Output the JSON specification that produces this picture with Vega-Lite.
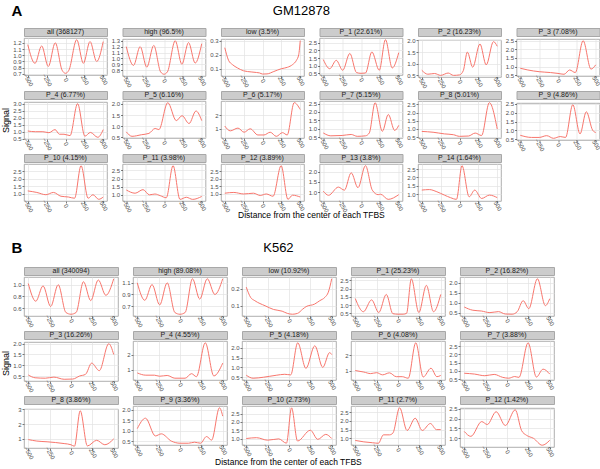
{
"$schema": "https://vega.github.io/schema/vega-lite/v6.json",
"padding": {"left": 1, "top": 3, "right": 0, "bottom": 0},
"spacing": 20,
"config": {
  "font": "Liberation Sans",
  "view": {"stroke": "#9a9a9a", "strokeWidth": 0.8},
  "axis": {"domain": false, "grid": true, "gridColor": "#e3e3e3", "gridWidth": 0.7, "tickSize": 2, "tickColor": "#444444", "tickWidth": 0.7, "labelFont": "Liberation Sans", "labelFontSize": 6, "labelColor": "#4d4d4d", "labelOverlap": false, "labelFlush": false},
  "axisX": {"labelAngle": 60, "labelAlign": "center", "labelBaseline": "middle", "labelPadding": 2.5, "minExtent": 12},
  "axisY": {"labelPadding": 1, "minExtent": 12, "format": ".1f"},
  "line": {"color": "#F8766D", "strokeWidth": 1, "interpolate": "monotone"},
  "text": {"font": "Liberation Sans", "fontSize": 7, "color": "#1a1a1a"},
  "title": {"font": "Liberation Sans", "fontWeight": "normal", "color": "#000000"}
},
"datasets": {
"A": [
{"p":"all","x":-500,"y":1.17},{"p":"all","x":-404,"y":0.87},{"p":"all","x":-316,"y":1.15},{"p":"all","x":-228,"y":0.82},{"p":"all","x":-136,"y":1.2},{"p":"all","x":-45,"y":0.76},{"p":"all","x":0,"y":0.71},{"p":"all","x":45,"y":0.76},{"p":"all","x":149,"y":1.25},{"p":"all","x":237,"y":0.87},{"p":"all","x":325,"y":1.22},{"p":"all","x":413,"y":0.9},{"p":"all","x":500,"y":1.22},
{"p":"high","x":-500,"y":1.2},{"p":"high","x":-404,"y":0.88},{"p":"high","x":-316,"y":1.2},{"p":"high","x":-228,"y":0.85},{"p":"high","x":-136,"y":1.22},{"p":"high","x":-45,"y":0.77},{"p":"high","x":0,"y":0.73},{"p":"high","x":45,"y":0.77},{"p":"high","x":149,"y":1.3},{"p":"high","x":237,"y":0.9},{"p":"high","x":325,"y":1.27},{"p":"high","x":413,"y":0.92},{"p":"high","x":500,"y":1.25},
{"p":"low","x":-500,"y":0.25},{"p":"low","x":-450,"y":0.16},{"p":"low","x":-400,"y":0.13},{"p":"low","x":-330,"y":0.105},{"p":"low","x":-250,"y":0.085},{"p":"low","x":-150,"y":0.077},{"p":"low","x":-80,"y":0.073},{"p":"low","x":-40,"y":0.07},{"p":"low","x":0,"y":0.062},{"p":"low","x":60,"y":0.063},{"p":"low","x":150,"y":0.08},{"p":"low","x":250,"y":0.1},{"p":"low","x":330,"y":0.11},{"p":"low","x":400,"y":0.13},{"p":"low","x":450,"y":0.16},{"p":"low","x":480,"y":0.2},{"p":"low","x":500,"y":0.3},
{"p":"P_1","x":-500,"y":1.4},{"p":"P_1","x":-414,"y":0.8},{"p":"P_1","x":-328,"y":1.35},{"p":"P_1","x":-242,"y":0.7},{"p":"P_1","x":-148,"y":1.8},{"p":"P_1","x":-60,"y":0.55},{"p":"P_1","x":0,"y":0.5},{"p":"P_1","x":60,"y":0.52},{"p":"P_1","x":144,"y":1.9},{"p":"P_1","x":242,"y":0.7},{"p":"P_1","x":324,"y":2.7},{"p":"P_1","x":414,"y":0.85},{"p":"P_1","x":500,"y":1.85},
{"p":"P_2","x":-500,"y":0.72},{"p":"P_2","x":-420,"y":0.55},{"p":"P_2","x":-330,"y":0.58},{"p":"P_2","x":-250,"y":0.5},{"p":"P_2","x":-150,"y":0.6},{"p":"P_2","x":-80,"y":0.5},{"p":"P_2","x":0,"y":0.52},{"p":"P_2","x":50,"y":0.7},{"p":"P_2","x":104,"y":1.5},{"p":"P_2","x":175,"y":0.85},{"p":"P_2","x":271,"y":1.85},{"p":"P_2","x":354,"y":0.95},{"p":"P_2","x":450,"y":1.95},{"p":"P_2","x":500,"y":1.75},
{"p":"P_3","x":-500,"y":0.9},{"p":"P_3","x":-400,"y":0.8},{"p":"P_3","x":-250,"y":0.7},{"p":"P_3","x":-100,"y":0.65},{"p":"P_3","x":0,"y":0.6},{"p":"P_3","x":80,"y":0.55},{"p":"P_3","x":154,"y":0.8},{"p":"P_3","x":229,"y":0.65},{"p":"P_3","x":333,"y":2.5},{"p":"P_3","x":437,"y":0.85},{"p":"P_3","x":500,"y":1.1},
{"p":"P_4","x":-500,"y":1.05},{"p":"P_4","x":-400,"y":1.0},{"p":"P_4","x":-300,"y":1.0},{"p":"P_4","x":-220,"y":0.93},{"p":"P_4","x":-138,"y":1.15},{"p":"P_4","x":-80,"y":0.82},{"p":"P_4","x":-20,"y":0.82},{"p":"P_4","x":60,"y":0.72},{"p":"P_4","x":160,"y":3.0},{"p":"P_4","x":257,"y":0.68},{"p":"P_4","x":330,"y":0.95},{"p":"P_4","x":428,"y":0.6},{"p":"P_4","x":500,"y":1.15},
{"p":"P_5","x":-500,"y":0.75},{"p":"P_5","x":-424,"y":0.55},{"p":"P_5","x":-300,"y":0.62},{"p":"P_5","x":-200,"y":0.68},{"p":"P_5","x":-118,"y":0.9},{"p":"P_5","x":-68,"y":0.85},{"p":"P_5","x":50,"y":2.05},{"p":"P_5","x":163,"y":1.25},{"p":"P_5","x":239,"y":1.47},{"p":"P_5","x":332,"y":1.12},{"p":"P_5","x":424,"y":1.68},{"p":"P_5","x":500,"y":1.25},
{"p":"P_6","x":-500,"y":1.2},{"p":"P_6","x":-427,"y":0.85},{"p":"P_6","x":-325,"y":1.05},{"p":"P_6","x":-244,"y":0.75},{"p":"P_6","x":-163,"y":1.0},{"p":"P_6","x":-61,"y":0.55},{"p":"P_6","x":20,"y":0.55},{"p":"P_6","x":102,"y":0.75},{"p":"P_6","x":183,"y":0.45},{"p":"P_6","x":265,"y":0.72},{"p":"P_6","x":327,"y":0.55},{"p":"P_6","x":420,"y":2.9},{"p":"P_6","x":500,"y":2.4},
{"p":"P_7","x":-500,"y":0.75},{"p":"P_7","x":-400,"y":0.58},{"p":"P_7","x":-250,"y":0.6},{"p":"P_7","x":-130,"y":0.66},{"p":"P_7","x":-50,"y":0.55},{"p":"P_7","x":60,"y":0.58},{"p":"P_7","x":110,"y":0.75},{"p":"P_7","x":187,"y":2.55},{"p":"P_7","x":283,"y":0.85},{"p":"P_7","x":362,"y":1.85},{"p":"P_7","x":446,"y":0.9},{"p":"P_7","x":500,"y":1.2},
{"p":"P_8","x":-500,"y":0.85},{"p":"P_8","x":-350,"y":0.8},{"p":"P_8","x":-200,"y":0.7},{"p":"P_8","x":-80,"y":0.65},{"p":"P_8","x":0,"y":0.55},{"p":"P_8","x":120,"y":0.57},{"p":"P_8","x":208,"y":0.75},{"p":"P_8","x":292,"y":0.6},{"p":"P_8","x":396,"y":2.6},{"p":"P_8","x":500,"y":1.0},
{"p":"P_9","x":-500,"y":0.72},{"p":"P_9","x":-350,"y":0.6},{"p":"P_9","x":-250,"y":0.6},{"p":"P_9","x":-150,"y":0.7},{"p":"P_9","x":-60,"y":0.55},{"p":"P_9","x":30,"y":0.65},{"p":"P_9","x":100,"y":0.6},{"p":"P_9","x":196,"y":2.45},{"p":"P_9","x":292,"y":0.8},{"p":"P_9","x":375,"y":2.05},{"p":"P_9","x":460,"y":1.0},{"p":"P_9","x":500,"y":0.88},
{"p":"P_10","x":-500,"y":1.2},{"p":"P_10","x":-380,"y":1.1},{"p":"P_10","x":-260,"y":0.95},{"p":"P_10","x":-160,"y":1.1},{"p":"P_10","x":-60,"y":0.85},{"p":"P_10","x":40,"y":0.8},{"p":"P_10","x":120,"y":0.72},{"p":"P_10","x":206,"y":2.85},{"p":"P_10","x":300,"y":0.72},{"p":"P_10","x":364,"y":0.95},{"p":"P_10","x":440,"y":0.65},{"p":"P_10","x":500,"y":0.8},
{"p":"P_11","x":-500,"y":1.3},{"p":"P_11","x":-383,"y":1.1},{"p":"P_11","x":-278,"y":1.32},{"p":"P_11","x":-194,"y":1.0},{"p":"P_11","x":-120,"y":1.05},{"p":"P_11","x":-50,"y":0.95},{"p":"P_11","x":30,"y":0.82},{"p":"P_11","x":120,"y":2.8},{"p":"P_11","x":212,"y":0.72},{"p":"P_11","x":296,"y":0.85},{"p":"P_11","x":380,"y":0.72},{"p":"P_11","x":500,"y":0.9},
{"p":"P_12","x":-500,"y":1.05},{"p":"P_12","x":-380,"y":1.1},{"p":"P_12","x":-250,"y":1.0},{"p":"P_12","x":-120,"y":1.05},{"p":"P_12","x":-30,"y":0.9},{"p":"P_12","x":50,"y":1.0},{"p":"P_12","x":140,"y":0.85},{"p":"P_12","x":247,"y":2.85},{"p":"P_12","x":337,"y":0.65},{"p":"P_12","x":398,"y":0.92},{"p":"P_12","x":500,"y":0.8},
{"p":"P_13","x":-500,"y":1.05},{"p":"P_13","x":-430,"y":0.85},{"p":"P_13","x":-300,"y":1.25},{"p":"P_13","x":-220,"y":1.1},{"p":"P_13","x":-130,"y":1.95},{"p":"P_13","x":-40,"y":1.22},{"p":"P_13","x":59,"y":2.3},{"p":"P_13","x":150,"y":1.1},{"p":"P_13","x":227,"y":0.88},{"p":"P_13","x":260,"y":0.9},{"p":"P_13","x":360,"y":0.65},{"p":"P_13","x":500,"y":0.88},
{"p":"P_14","x":-500,"y":1.25},{"p":"P_14","x":-400,"y":1.28},{"p":"P_14","x":-300,"y":1.15},{"p":"P_14","x":-200,"y":0.95},{"p":"P_14","x":-120,"y":0.8},{"p":"P_14","x":-40,"y":0.7},{"p":"P_14","x":33,"y":2.7},{"p":"P_14","x":128,"y":0.85},{"p":"P_14","x":202,"y":1.25},{"p":"P_14","x":293,"y":0.75},{"p":"P_14","x":397,"y":0.95},{"p":"P_14","x":500,"y":0.8}
],
"B": [
{"p":"all","x":-500,"y":1.02},{"p":"all","x":-412,"y":0.72},{"p":"all","x":-327,"y":0.98},{"p":"all","x":-238,"y":0.63},{"p":"all","x":-150,"y":1.0},{"p":"all","x":-60,"y":0.53},{"p":"all","x":0,"y":0.5},{"p":"all","x":60,"y":0.53},{"p":"all","x":146,"y":1.05},{"p":"all","x":231,"y":0.73},{"p":"all","x":319,"y":1.08},{"p":"all","x":408,"y":0.82},{"p":"all","x":500,"y":1.1},
{"p":"high","x":-500,"y":1.1},{"p":"high","x":-412,"y":0.8},{"p":"high","x":-327,"y":1.07},{"p":"high","x":-238,"y":0.72},{"p":"high","x":-150,"y":1.1},{"p":"high","x":-60,"y":0.59},{"p":"high","x":0,"y":0.56},{"p":"high","x":60,"y":0.59},{"p":"high","x":146,"y":1.17},{"p":"high","x":231,"y":0.82},{"p":"high","x":319,"y":1.17},{"p":"high","x":408,"y":0.9},{"p":"high","x":500,"y":1.17},
{"p":"low","x":-500,"y":0.21},{"p":"low","x":-450,"y":0.15},{"p":"low","x":-400,"y":0.13},{"p":"low","x":-280,"y":0.1},{"p":"low","x":-180,"y":0.078},{"p":"low","x":-80,"y":0.068},{"p":"low","x":-20,"y":0.055},{"p":"low","x":40,"y":0.05},{"p":"low","x":100,"y":0.055},{"p":"low","x":160,"y":0.08},{"p":"low","x":200,"y":0.095},{"p":"low","x":300,"y":0.11},{"p":"low","x":360,"y":0.13},{"p":"low","x":420,"y":0.15},{"p":"low","x":460,"y":0.18},{"p":"low","x":500,"y":0.26},
{"p":"P_1","x":-500,"y":1.4},{"p":"P_1","x":-405,"y":0.6},{"p":"P_1","x":-309,"y":1.32},{"p":"P_1","x":-225,"y":0.55},{"p":"P_1","x":-137,"y":1.65},{"p":"P_1","x":-60,"y":0.48},{"p":"P_1","x":0,"y":0.45},{"p":"P_1","x":60,"y":0.45},{"p":"P_1","x":100,"y":0.5},{"p":"P_1","x":156,"y":2.6},{"p":"P_1","x":244,"y":0.55},{"p":"P_1","x":332,"y":2.2},{"p":"P_1","x":416,"y":0.6},{"p":"P_1","x":500,"y":1.65},
{"p":"P_2","x":-500,"y":0.78},{"p":"P_2","x":-400,"y":0.62},{"p":"P_2","x":-300,"y":0.58},{"p":"P_2","x":-200,"y":0.5},{"p":"P_2","x":-100,"y":0.55},{"p":"P_2","x":-20,"y":0.43},{"p":"P_2","x":60,"y":0.42},{"p":"P_2","x":120,"y":0.55},{"p":"P_2","x":189,"y":1.1},{"p":"P_2","x":255,"y":0.7},{"p":"P_2","x":356,"y":2.2},{"p":"P_2","x":449,"y":0.85},{"p":"P_2","x":500,"y":1.2},
{"p":"P_3","x":-500,"y":0.55},{"p":"P_3","x":-420,"y":0.42},{"p":"P_3","x":-300,"y":0.4},{"p":"P_3","x":-200,"y":0.45},{"p":"P_3","x":-80,"y":0.35},{"p":"P_3","x":20,"y":0.36},{"p":"P_3","x":100,"y":0.5},{"p":"P_3","x":170,"y":0.58},{"p":"P_3","x":242,"y":1.1},{"p":"P_3","x":331,"y":0.75},{"p":"P_3","x":442,"y":2.0},{"p":"P_3","x":500,"y":1.5},
{"p":"P_4","x":-500,"y":0.8},{"p":"P_4","x":-400,"y":0.65},{"p":"P_4","x":-300,"y":0.65},{"p":"P_4","x":-240,"y":0.58},{"p":"P_4","x":-150,"y":0.63},{"p":"P_4","x":-60,"y":0.45},{"p":"P_4","x":60,"y":0.45},{"p":"P_4","x":135,"y":0.75},{"p":"P_4","x":192,"y":0.55},{"p":"P_4","x":296,"y":2.8},{"p":"P_4","x":396,"y":0.6},{"p":"P_4","x":500,"y":1.45},
{"p":"P_5","x":-500,"y":0.6},{"p":"P_5","x":-420,"y":0.45},{"p":"P_5","x":-300,"y":0.5},{"p":"P_5","x":-150,"y":0.6},{"p":"P_5","x":-50,"y":0.65},{"p":"P_5","x":20,"y":0.62},{"p":"P_5","x":102,"y":2.25},{"p":"P_5","x":198,"y":0.95},{"p":"P_5","x":302,"y":2.1},{"p":"P_5","x":395,"y":1.0},{"p":"P_5","x":475,"y":1.75},{"p":"P_5","x":500,"y":1.65},
{"p":"P_6","x":-500,"y":1.0},{"p":"P_6","x":-400,"y":0.9},{"p":"P_6","x":-320,"y":0.8},{"p":"P_6","x":-250,"y":0.86},{"p":"P_6","x":-180,"y":0.72},{"p":"P_6","x":-100,"y":0.85},{"p":"P_6","x":-20,"y":0.6},{"p":"P_6","x":50,"y":0.6},{"p":"P_6","x":120,"y":0.5},{"p":"P_6","x":208,"y":2.8},{"p":"P_6","x":295,"y":0.58},{"p":"P_6","x":386,"y":1.15},{"p":"P_6","x":455,"y":0.6},{"p":"P_6","x":500,"y":0.68},
{"p":"P_7","x":-500,"y":0.85},{"p":"P_7","x":-380,"y":0.8},{"p":"P_7","x":-260,"y":0.7},{"p":"P_7","x":-150,"y":0.78},{"p":"P_7","x":-50,"y":0.6},{"p":"P_7","x":20,"y":0.55},{"p":"P_7","x":90,"y":0.65},{"p":"P_7","x":140,"y":0.6},{"p":"P_7","x":247,"y":2.7},{"p":"P_7","x":344,"y":0.62},{"p":"P_7","x":422,"y":1.1},{"p":"P_7","x":500,"y":0.8},
{"p":"P_8","x":-500,"y":0.95},{"p":"P_8","x":-400,"y":0.85},{"p":"P_8","x":-280,"y":0.8},{"p":"P_8","x":-180,"y":0.75},{"p":"P_8","x":-80,"y":0.68},{"p":"P_8","x":0,"y":0.6},{"p":"P_8","x":40,"y":0.5},{"p":"P_8","x":108,"y":2.9},{"p":"P_8","x":192,"y":0.52},{"p":"P_8","x":300,"y":0.9},{"p":"P_8","x":396,"y":0.6},{"p":"P_8","x":500,"y":1.0},
{"p":"P_9","x":-500,"y":1.1},{"p":"P_9","x":-404,"y":1.6},{"p":"P_9","x":-288,"y":0.75},{"p":"P_9","x":-219,"y":0.85},{"p":"P_9","x":-100,"y":0.5},{"p":"P_9","x":0,"y":0.4},{"p":"P_9","x":100,"y":0.4},{"p":"P_9","x":170,"y":0.45},{"p":"P_9","x":240,"y":0.4},{"p":"P_9","x":310,"y":0.72},{"p":"P_9","x":370,"y":0.55},{"p":"P_9","x":462,"y":2.1},{"p":"P_9","x":500,"y":1.7},
{"p":"P_10","x":-500,"y":1.0},{"p":"P_10","x":-380,"y":1.05},{"p":"P_10","x":-250,"y":0.9},{"p":"P_10","x":-120,"y":0.98},{"p":"P_10","x":-30,"y":0.72},{"p":"P_10","x":30,"y":2.85},{"p":"P_10","x":100,"y":0.85},{"p":"P_10","x":250,"y":1.5},{"p":"P_10","x":337,"y":0.95},{"p":"P_10","x":430,"y":1.25},{"p":"P_10","x":500,"y":1.0},
{"p":"P_11","x":-500,"y":0.88},{"p":"P_11","x":-400,"y":0.8},{"p":"P_11","x":-300,"y":0.75},{"p":"P_11","x":-230,"y":0.72},{"p":"P_11","x":-170,"y":1.2},{"p":"P_11","x":-100,"y":1.2},{"p":"P_11","x":-60,"y":1.3},{"p":"P_11","x":19,"y":2.75},{"p":"P_11","x":106,"y":1.45},{"p":"P_11","x":201,"y":2.15},{"p":"P_11","x":284,"y":1.45},{"p":"P_11","x":379,"y":1.85},{"p":"P_11","x":450,"y":1.5},{"p":"P_11","x":500,"y":1.5},
{"p":"P_12","x":-500,"y":1.35},{"p":"P_12","x":-423,"y":1.1},{"p":"P_12","x":-296,"y":1.85},{"p":"P_12","x":-231,"y":1.7},{"p":"P_12","x":-127,"y":2.35},{"p":"P_12","x":-19,"y":1.65},{"p":"P_12","x":96,"y":2.45},{"p":"P_12","x":170,"y":1.4},{"p":"P_12","x":230,"y":1.15},{"p":"P_12","x":310,"y":1.0},{"p":"P_12","x":412,"y":0.65},{"p":"P_12","x":500,"y":0.9}
]
},
"vconcat": [
{
 "title": {"text": "A", "anchor": "start", "fontSize": 15, "fontWeight": "bold", "dx": 10, "dy": 14, "offset": 0},
 "vconcat": [{
  "title": {"text": "GM12878", "anchor": "middle", "fontSize": 13, "offset": 10},
  "vconcat": [{
   "title": {"text": "Distance from the center of each TFBS", "orient": "bottom", "anchor": "middle", "fontSize": 8.5, "offset": -2, "dx": 10},
   "vconcat": [{
    "title": {"text": "Signal", "orient": "left", "anchor": "middle", "fontSize": 9, "offset": 1},
    "spacing": 0,
    "vconcat": [
     {"spacing": 0.5, "hconcat": [
      {"spacing": 0, "vconcat": [
       {"width": 83, "height": 8, "data": {"values": [{"t": "all (368127)"}]}, "mark": "text", "encoding": {"text": {"field": "t"}}, "view": {"fill": "#cccccc", "stroke": "#a8a8a8"}},
       {"width": 83, "height": 37, "data": {"name": "A"}, "transform": [{"filter": {"field": "p", "equal": "all"}}], "mark": "line", "encoding": {"x": {"field": "x", "type": "quantitative", "title": null, "scale": {"domain": [-550, 550], "nice": false}, "axis": {"values": [-500, -250, 0, 250, 500], "labelAlign": "center", "labelBaseline": "middle"}}, "y": {"field": "y", "type": "quantitative", "title": null, "scale": {"domain": [0.683, 1.277], "nice": false}, "axis": {"values": [0.7, 0.8, 0.9, 1.0, 1.1, 1.2]}}}}
      ]},
      {"spacing": 0, "vconcat": [
       {"width": 83, "height": 8, "data": {"values": [{"t": "high (96.5%)"}]}, "mark": "text", "encoding": {"text": {"field": "t"}}, "view": {"fill": "#cccccc", "stroke": "#a8a8a8"}},
       {"width": 83, "height": 37, "data": {"name": "A"}, "transform": [{"filter": {"field": "p", "equal": "high"}}], "mark": "line", "encoding": {"x": {"field": "x", "type": "quantitative", "title": null, "scale": {"domain": [-550, 550], "nice": false}, "axis": {"values": [-500, -250, 0, 250, 500], "labelAlign": "center", "labelBaseline": "middle"}}, "y": {"field": "y", "type": "quantitative", "title": null, "scale": {"domain": [0.70, 1.33], "nice": false}, "axis": {"values": [0.8, 0.9, 1.0, 1.1, 1.2, 1.3]}}}}
      ]},
      {"spacing": 0, "vconcat": [
       {"width": 83, "height": 8, "data": {"values": [{"t": "low (3.5%)"}]}, "mark": "text", "encoding": {"text": {"field": "t"}}, "view": {"fill": "#cccccc", "stroke": "#a8a8a8"}},
       {"width": 83, "height": 37, "data": {"name": "A"}, "transform": [{"filter": {"field": "p", "equal": "low"}}], "mark": "line", "encoding": {"x": {"field": "x", "type": "quantitative", "title": null, "scale": {"domain": [-550, 550], "nice": false}, "axis": {"values": [-500, -250, 0, 250, 500], "labelAlign": "center", "labelBaseline": "middle"}}, "y": {"field": "y", "type": "quantitative", "title": null, "scale": {"domain": [0.048, 0.312], "nice": false}, "axis": {"values": [0.1, 0.2, 0.3]}}}}
      ]},
      {"spacing": 0, "vconcat": [
       {"width": 83, "height": 8, "data": {"values": [{"t": "P_1 (22.61%)"}]}, "mark": "text", "encoding": {"text": {"field": "t"}}, "view": {"fill": "#cccccc", "stroke": "#a8a8a8"}},
       {"width": 83, "height": 37, "data": {"name": "A"}, "transform": [{"filter": {"field": "p", "equal": "P_1"}}], "mark": "line", "encoding": {"x": {"field": "x", "type": "quantitative", "title": null, "scale": {"domain": [-550, 550], "nice": false}, "axis": {"values": [-500, -250, 0, 250, 500], "labelAlign": "center", "labelBaseline": "middle"}}, "y": {"field": "y", "type": "quantitative", "title": null, "scale": {"domain": [0.39, 2.81], "nice": false}, "axis": {"values": [0.5, 1.0, 1.5, 2.0, 2.5]}}}}
      ]},
      {"spacing": 0, "vconcat": [
       {"width": 83, "height": 8, "data": {"values": [{"t": "P_2 (16.23%)"}]}, "mark": "text", "encoding": {"text": {"field": "t"}}, "view": {"fill": "#cccccc", "stroke": "#a8a8a8"}},
       {"width": 83, "height": 37, "data": {"name": "A"}, "transform": [{"filter": {"field": "p", "equal": "P_2"}}], "mark": "line", "encoding": {"x": {"field": "x", "type": "quantitative", "title": null, "scale": {"domain": [-550, 550], "nice": false}, "axis": {"values": [-500, -250, 0, 250, 500], "labelAlign": "center", "labelBaseline": "middle"}}, "y": {"field": "y", "type": "quantitative", "title": null, "scale": {"domain": [0.43, 2.02], "nice": false}, "axis": {"values": [0.5, 1.0, 1.5, 2.0]}}}}
      ]},
      {"spacing": 0, "vconcat": [
       {"width": 83, "height": 8, "data": {"values": [{"t": "P_3 (7.08%)"}]}, "mark": "text", "encoding": {"text": {"field": "t"}}, "view": {"fill": "#cccccc", "stroke": "#a8a8a8"}},
       {"width": 83, "height": 37, "data": {"name": "A"}, "transform": [{"filter": {"field": "p", "equal": "P_3"}}], "mark": "line", "encoding": {"x": {"field": "x", "type": "quantitative", "title": null, "scale": {"domain": [-550, 550], "nice": false}, "axis": {"values": [-500, -250, 0, 250, 500], "labelAlign": "center", "labelBaseline": "middle"}}, "y": {"field": "y", "type": "quantitative", "title": null, "scale": {"domain": [0.45, 2.6], "nice": false}, "axis": {"values": [0.5, 1.0, 1.5, 2.0, 2.5]}}}}
      ]}
     ]},
     {"spacing": 0.5, "hconcat": [
      {"spacing": 0, "vconcat": [
       {"width": 83, "height": 8, "data": {"values": [{"t": "P_4 (6.77%)"}]}, "mark": "text", "encoding": {"text": {"field": "t"}}, "view": {"fill": "#cccccc", "stroke": "#a8a8a8"}},
       {"width": 83, "height": 37, "data": {"name": "A"}, "transform": [{"filter": {"field": "p", "equal": "P_4"}}], "mark": "line", "encoding": {"x": {"field": "x", "type": "quantitative", "title": null, "scale": {"domain": [-550, 550], "nice": false}, "axis": {"values": [-500, -250, 0, 250, 500], "labelAlign": "center", "labelBaseline": "middle"}}, "y": {"field": "y", "type": "quantitative", "title": null, "scale": {"domain": [0.48, 3.12], "nice": false}, "axis": {"values": [0.5, 1.0, 1.5, 2.0, 2.5, 3.0]}}}}
      ]},
      {"spacing": 0, "vconcat": [
       {"width": 83, "height": 8, "data": {"values": [{"t": "P_5 (6.16%)"}]}, "mark": "text", "encoding": {"text": {"field": "t"}}, "view": {"fill": "#cccccc", "stroke": "#a8a8a8"}},
       {"width": 83, "height": 37, "data": {"name": "A"}, "transform": [{"filter": {"field": "p", "equal": "P_5"}}], "mark": "line", "encoding": {"x": {"field": "x", "type": "quantitative", "title": null, "scale": {"domain": [-550, 550], "nice": false}, "axis": {"values": [-500, -250, 0, 250, 500], "labelAlign": "center", "labelBaseline": "middle"}}, "y": {"field": "y", "type": "quantitative", "title": null, "scale": {"domain": [0.475, 2.125], "nice": false}, "axis": {"values": [0.5, 1.0, 1.5, 2.0]}}}}
      ]},
      {"spacing": 0, "vconcat": [
       {"width": 83, "height": 8, "data": {"values": [{"t": "P_6 (5.17%)"}]}, "mark": "text", "encoding": {"text": {"field": "t"}}, "view": {"fill": "#cccccc", "stroke": "#a8a8a8"}},
       {"width": 83, "height": 37, "data": {"name": "A"}, "transform": [{"filter": {"field": "p", "equal": "P_6"}}], "mark": "line", "encoding": {"x": {"field": "x", "type": "quantitative", "title": null, "scale": {"domain": [-550, 550], "nice": false}, "axis": {"values": [-500, -250, 0, 250, 500], "labelAlign": "center", "labelBaseline": "middle"}}, "y": {"field": "y", "type": "quantitative", "title": null, "scale": {"domain": [0.33, 3.02], "nice": false}, "axis": {"values": [1, 2], "format": "d"}}}}
      ]},
      {"spacing": 0, "vconcat": [
       {"width": 83, "height": 8, "data": {"values": [{"t": "P_7 (5.15%)"}]}, "mark": "text", "encoding": {"text": {"field": "t"}}, "view": {"fill": "#cccccc", "stroke": "#a8a8a8"}},
       {"width": 83, "height": 37, "data": {"name": "A"}, "transform": [{"filter": {"field": "p", "equal": "P_7"}}], "mark": "line", "encoding": {"x": {"field": "x", "type": "quantitative", "title": null, "scale": {"domain": [-550, 550], "nice": false}, "axis": {"values": [-500, -250, 0, 250, 500], "labelAlign": "center", "labelBaseline": "middle"}}, "y": {"field": "y", "type": "quantitative", "title": null, "scale": {"domain": [0.45, 2.65], "nice": false}, "axis": {"values": [0.5, 1.0, 1.5, 2.0, 2.5]}}}}
      ]},
      {"spacing": 0, "vconcat": [
       {"width": 83, "height": 8, "data": {"values": [{"t": "P_8 (5.01%)"}]}, "mark": "text", "encoding": {"text": {"field": "t"}}, "view": {"fill": "#cccccc", "stroke": "#a8a8a8"}},
       {"width": 83, "height": 37, "data": {"name": "A"}, "transform": [{"filter": {"field": "p", "equal": "P_8"}}], "mark": "line", "encoding": {"x": {"field": "x", "type": "quantitative", "title": null, "scale": {"domain": [-550, 550], "nice": false}, "axis": {"values": [-500, -250, 0, 250, 500], "labelAlign": "center", "labelBaseline": "middle"}}, "y": {"field": "y", "type": "quantitative", "title": null, "scale": {"domain": [0.45, 2.7], "nice": false}, "axis": {"values": [0.5, 1.0, 1.5, 2.0, 2.5]}}}}
      ]},
      {"spacing": 0, "vconcat": [
       {"width": 83, "height": 8, "data": {"values": [{"t": "P_9 (4.86%)"}]}, "mark": "text", "encoding": {"text": {"field": "t"}}, "view": {"fill": "#cccccc", "stroke": "#a8a8a8"}},
       {"width": 83, "height": 37, "data": {"name": "A"}, "transform": [{"filter": {"field": "p", "equal": "P_9"}}], "mark": "line", "encoding": {"x": {"field": "x", "type": "quantitative", "title": null, "scale": {"domain": [-550, 550], "nice": false}, "axis": {"values": [-500, -250, 0, 250, 500], "labelAlign": "center", "labelBaseline": "middle"}}, "y": {"field": "y", "type": "quantitative", "title": null, "scale": {"domain": [0.455, 2.545], "nice": false}, "axis": {"values": [0.5, 1.0, 1.5, 2.0, 2.5]}}}}
      ]}
     ]},
     {"spacing": 0.5, "hconcat": [
      {"spacing": 0, "vconcat": [
       {"width": 83, "height": 8, "data": {"values": [{"t": "P_10 (4.15%)"}]}, "mark": "text", "encoding": {"text": {"field": "t"}}, "view": {"fill": "#cccccc", "stroke": "#a8a8a8"}},
       {"width": 83, "height": 37, "data": {"name": "A"}, "transform": [{"filter": {"field": "p", "equal": "P_10"}}], "mark": "line", "encoding": {"x": {"field": "x", "type": "quantitative", "title": null, "scale": {"domain": [-550, 550], "nice": false}, "axis": {"values": [-500, -250, 0, 250, 500], "labelAlign": "center", "labelBaseline": "middle"}}, "y": {"field": "y", "type": "quantitative", "title": null, "scale": {"domain": [0.54, 2.96], "nice": false}, "axis": {"values": [1.0, 1.5, 2.0, 2.5]}}}}
      ]},
      {"spacing": 0, "vconcat": [
       {"width": 83, "height": 8, "data": {"values": [{"t": "P_11 (3.98%)"}]}, "mark": "text", "encoding": {"text": {"field": "t"}}, "view": {"fill": "#cccccc", "stroke": "#a8a8a8"}},
       {"width": 83, "height": 37, "data": {"name": "A"}, "transform": [{"filter": {"field": "p", "equal": "P_11"}}], "mark": "line", "encoding": {"x": {"field": "x", "type": "quantitative", "title": null, "scale": {"domain": [-550, 550], "nice": false}, "axis": {"values": [-500, -250, 0, 250, 500], "labelAlign": "center", "labelBaseline": "middle"}}, "y": {"field": "y", "type": "quantitative", "title": null, "scale": {"domain": [0.62, 2.9], "nice": false}, "axis": {"values": [1.0, 1.5, 2.0, 2.5]}}}}
      ]},
      {"spacing": 0, "vconcat": [
       {"width": 83, "height": 8, "data": {"values": [{"t": "P_12 (3.89%)"}]}, "mark": "text", "encoding": {"text": {"field": "t"}}, "view": {"fill": "#cccccc", "stroke": "#a8a8a8"}},
       {"width": 83, "height": 37, "data": {"name": "A"}, "transform": [{"filter": {"field": "p", "equal": "P_12"}}], "mark": "line", "encoding": {"x": {"field": "x", "type": "quantitative", "title": null, "scale": {"domain": [-550, 550], "nice": false}, "axis": {"values": [-500, -250, 0, 250, 500], "labelAlign": "center", "labelBaseline": "middle"}}, "y": {"field": "y", "type": "quantitative", "title": null, "scale": {"domain": [0.54, 2.96], "nice": false}, "axis": {"values": [1.0, 1.5, 2.0, 2.5]}}}}
      ]},
      {"spacing": 0, "vconcat": [
       {"width": 83, "height": 8, "data": {"values": [{"t": "P_13 (3.8%)"}]}, "mark": "text", "encoding": {"text": {"field": "t"}}, "view": {"fill": "#cccccc", "stroke": "#a8a8a8"}},
       {"width": 83, "height": 37, "data": {"name": "A"}, "transform": [{"filter": {"field": "p", "equal": "P_13"}}], "mark": "line", "encoding": {"x": {"field": "x", "type": "quantitative", "title": null, "scale": {"domain": [-550, 550], "nice": false}, "axis": {"values": [-500, -250, 0, 250, 500], "labelAlign": "center", "labelBaseline": "middle"}}, "y": {"field": "y", "type": "quantitative", "title": null, "scale": {"domain": [0.57, 2.38], "nice": false}, "axis": {"values": [1.0, 1.5, 2.0]}}}}
      ]},
      {"spacing": 0, "vconcat": [
       {"width": 83, "height": 8, "data": {"values": [{"t": "P_14 (1.64%)"}]}, "mark": "text", "encoding": {"text": {"field": "t"}}, "view": {"fill": "#cccccc", "stroke": "#a8a8a8"}},
       {"width": 83, "height": 37, "data": {"name": "A"}, "transform": [{"filter": {"field": "p", "equal": "P_14"}}], "mark": "line", "encoding": {"x": {"field": "x", "type": "quantitative", "title": null, "scale": {"domain": [-550, 550], "nice": false}, "axis": {"values": [-500, -250, 0, 250, 500], "labelAlign": "center", "labelBaseline": "middle"}}, "y": {"field": "y", "type": "quantitative", "title": null, "scale": {"domain": [0.6, 2.8], "nice": false}, "axis": {"values": [1.0, 1.5, 2.0, 2.5]}}}}
      ]}
     ]}
    ]
   }]
  }]
 }]
},
{
 "title": {"text": "B", "anchor": "start", "fontSize": 15, "fontWeight": "bold", "dx": 10, "dy": 14, "offset": 0},
 "vconcat": [{
  "title": {"text": "K562", "anchor": "middle", "fontSize": 13, "offset": 12},
  "vconcat": [{
   "title": {"text": "Distance from the center of each TFBS", "orient": "bottom", "anchor": "middle", "fontSize": 8.5, "offset": -2, "dx": 10},
   "vconcat": [{
    "title": {"text": "Signal", "orient": "left", "anchor": "middle", "fontSize": 9, "offset": 1},
    "spacing": 1,
    "vconcat": [
     {"spacing": 0, "hconcat": [
      {"spacing": 0, "vconcat": [
       {"width": 94, "height": 8, "data": {"values": [{"t": "all (340094)"}]}, "mark": "text", "encoding": {"text": {"field": "t"}}, "view": {"fill": "#cccccc", "stroke": "#a8a8a8"}},
       {"width": 94, "height": 39, "data": {"name": "B"}, "transform": [{"filter": {"field": "p", "equal": "all"}}], "mark": "line", "encoding": {"x": {"field": "x", "type": "quantitative", "title": null, "scale": {"domain": [-550, 550], "nice": false}, "axis": {"values": [-500, -250, 0, 250, 500], "labelAlign": "center", "labelBaseline": "middle"}}, "y": {"field": "y", "type": "quantitative", "title": null, "scale": {"domain": [0.47, 1.13], "nice": false}, "axis": {"values": [0.6, 0.8, 1.0]}}}}
      ]},
      {"spacing": 0, "vconcat": [
       {"width": 94, "height": 8, "data": {"values": [{"t": "high (89.08%)"}]}, "mark": "text", "encoding": {"text": {"field": "t"}}, "view": {"fill": "#cccccc", "stroke": "#a8a8a8"}},
       {"width": 94, "height": 39, "data": {"name": "B"}, "transform": [{"filter": {"field": "p", "equal": "high"}}], "mark": "line", "encoding": {"x": {"field": "x", "type": "quantitative", "title": null, "scale": {"domain": [-550, 550], "nice": false}, "axis": {"values": [-500, -250, 0, 250, 500], "labelAlign": "center", "labelBaseline": "middle"}}, "y": {"field": "y", "type": "quantitative", "title": null, "scale": {"domain": [0.53, 1.2], "nice": false}, "axis": {"values": [0.7, 0.9, 1.1]}}}}
      ]},
      {"spacing": 0, "vconcat": [
       {"width": 94, "height": 8, "data": {"values": [{"t": "low (10.92%)"}]}, "mark": "text", "encoding": {"text": {"field": "t"}}, "view": {"fill": "#cccccc", "stroke": "#a8a8a8"}},
       {"width": 94, "height": 39, "data": {"name": "B"}, "transform": [{"filter": {"field": "p", "equal": "low"}}], "mark": "line", "encoding": {"x": {"field": "x", "type": "quantitative", "title": null, "scale": {"domain": [-550, 550], "nice": false}, "axis": {"values": [-500, -250, 0, 250, 500], "labelAlign": "center", "labelBaseline": "middle"}}, "y": {"field": "y", "type": "quantitative", "title": null, "scale": {"domain": [0.0395, 0.27], "nice": false}, "axis": {"values": [0.1, 0.2]}}}}
      ]},
      {"spacing": 0, "vconcat": [
       {"width": 94, "height": 8, "data": {"values": [{"t": "P_1 (25.23%)"}]}, "mark": "text", "encoding": {"text": {"field": "t"}}, "view": {"fill": "#cccccc", "stroke": "#a8a8a8"}},
       {"width": 94, "height": 39, "data": {"name": "B"}, "transform": [{"filter": {"field": "p", "equal": "P_1"}}], "mark": "line", "encoding": {"x": {"field": "x", "type": "quantitative", "title": null, "scale": {"domain": [-550, 550], "nice": false}, "axis": {"values": [-500, -250, 0, 250, 500], "labelAlign": "center", "labelBaseline": "middle"}}, "y": {"field": "y", "type": "quantitative", "title": null, "scale": {"domain": [0.34, 2.71], "nice": false}, "axis": {"values": [0.5, 1.0, 1.5, 2.0, 2.5]}}}}
      ]},
      {"spacing": 0, "vconcat": [
       {"width": 94, "height": 8, "data": {"values": [{"t": "P_2 (16.82%)"}]}, "mark": "text", "encoding": {"text": {"field": "t"}}, "view": {"fill": "#cccccc", "stroke": "#a8a8a8"}},
       {"width": 94, "height": 39, "data": {"name": "B"}, "transform": [{"filter": {"field": "p", "equal": "P_2"}}], "mark": "line", "encoding": {"x": {"field": "x", "type": "quantitative", "title": null, "scale": {"domain": [-550, 550], "nice": false}, "axis": {"values": [-500, -250, 0, 250, 500], "labelAlign": "center", "labelBaseline": "middle"}}, "y": {"field": "y", "type": "quantitative", "title": null, "scale": {"domain": [0.33, 2.29], "nice": false}, "axis": {"values": [0.5, 1.0, 1.5, 2.0]}}}}
      ]}
     ]},
     {"spacing": 0, "hconcat": [
      {"spacing": 0, "vconcat": [
       {"width": 94, "height": 8, "data": {"values": [{"t": "P_3 (16.26%)"}]}, "mark": "text", "encoding": {"text": {"field": "t"}}, "view": {"fill": "#cccccc", "stroke": "#a8a8a8"}},
       {"width": 94, "height": 39, "data": {"name": "B"}, "transform": [{"filter": {"field": "p", "equal": "P_3"}}], "mark": "line", "encoding": {"x": {"field": "x", "type": "quantitative", "title": null, "scale": {"domain": [-550, 550], "nice": false}, "axis": {"values": [-500, -250, 0, 250, 500], "labelAlign": "center", "labelBaseline": "middle"}}, "y": {"field": "y", "type": "quantitative", "title": null, "scale": {"domain": [0.27, 2.08], "nice": false}, "axis": {"values": [0.5, 1.0, 1.5, 2.0]}}}}
      ]},
      {"spacing": 0, "vconcat": [
       {"width": 94, "height": 8, "data": {"values": [{"t": "P_4 (4.55%)"}]}, "mark": "text", "encoding": {"text": {"field": "t"}}, "view": {"fill": "#cccccc", "stroke": "#a8a8a8"}},
       {"width": 94, "height": 39, "data": {"name": "B"}, "transform": [{"filter": {"field": "p", "equal": "P_4"}}], "mark": "line", "encoding": {"x": {"field": "x", "type": "quantitative", "title": null, "scale": {"domain": [-550, 550], "nice": false}, "axis": {"values": [-500, -250, 0, 250, 500], "labelAlign": "center", "labelBaseline": "middle"}}, "y": {"field": "y", "type": "quantitative", "title": null, "scale": {"domain": [0.33, 2.92], "nice": false}, "axis": {"values": [1, 2], "format": "d"}}}}
      ]},
      {"spacing": 0, "vconcat": [
       {"width": 94, "height": 8, "data": {"values": [{"t": "P_5 (4.18%)"}]}, "mark": "text", "encoding": {"text": {"field": "t"}}, "view": {"fill": "#cccccc", "stroke": "#a8a8a8"}},
       {"width": 94, "height": 39, "data": {"name": "B"}, "transform": [{"filter": {"field": "p", "equal": "P_5"}}], "mark": "line", "encoding": {"x": {"field": "x", "type": "quantitative", "title": null, "scale": {"domain": [-550, 550], "nice": false}, "axis": {"values": [-500, -250, 0, 250, 500], "labelAlign": "center", "labelBaseline": "middle"}}, "y": {"field": "y", "type": "quantitative", "title": null, "scale": {"domain": [0.36, 2.34], "nice": false}, "axis": {"values": [0.5, 1.0, 1.5, 2.0]}}}}
      ]},
      {"spacing": 0, "vconcat": [
       {"width": 94, "height": 8, "data": {"values": [{"t": "P_6 (4.08%)"}]}, "mark": "text", "encoding": {"text": {"field": "t"}}, "view": {"fill": "#cccccc", "stroke": "#a8a8a8"}},
       {"width": 94, "height": 39, "data": {"name": "B"}, "transform": [{"filter": {"field": "p", "equal": "P_6"}}], "mark": "line", "encoding": {"x": {"field": "x", "type": "quantitative", "title": null, "scale": {"domain": [-550, 550], "nice": false}, "axis": {"values": [-500, -250, 0, 250, 500], "labelAlign": "center", "labelBaseline": "middle"}}, "y": {"field": "y", "type": "quantitative", "title": null, "scale": {"domain": [0.385, 2.915], "nice": false}, "axis": {"values": [1, 2], "format": "d"}}}}
      ]},
      {"spacing": 0, "vconcat": [
       {"width": 94, "height": 8, "data": {"values": [{"t": "P_7 (3.88%)"}]}, "mark": "text", "encoding": {"text": {"field": "t"}}, "view": {"fill": "#cccccc", "stroke": "#a8a8a8"}},
       {"width": 94, "height": 39, "data": {"name": "B"}, "transform": [{"filter": {"field": "p", "equal": "P_7"}}], "mark": "line", "encoding": {"x": {"field": "x", "type": "quantitative", "title": null, "scale": {"domain": [-550, 550], "nice": false}, "axis": {"values": [-500, -250, 0, 250, 500], "labelAlign": "center", "labelBaseline": "middle"}}, "y": {"field": "y", "type": "quantitative", "title": null, "scale": {"domain": [0.44, 2.81], "nice": false}, "axis": {"values": [0.5, 1.0, 1.5, 2.0, 2.5]}}}}
      ]}
     ]},
     {"spacing": 0, "hconcat": [
      {"spacing": 0, "vconcat": [
       {"width": 94, "height": 8, "data": {"values": [{"t": "P_8 (3.86%)"}]}, "mark": "text", "encoding": {"text": {"field": "t"}}, "view": {"fill": "#cccccc", "stroke": "#a8a8a8"}},
       {"width": 94, "height": 39, "data": {"name": "B"}, "transform": [{"filter": {"field": "p", "equal": "P_8"}}], "mark": "line", "encoding": {"x": {"field": "x", "type": "quantitative", "title": null, "scale": {"domain": [-550, 550], "nice": false}, "axis": {"values": [-500, -250, 0, 250, 500], "labelAlign": "center", "labelBaseline": "middle"}}, "y": {"field": "y", "type": "quantitative", "title": null, "scale": {"domain": [0.38, 3.02], "nice": false}, "axis": {"values": [1, 2, 3], "format": "d"}}}}
      ]},
      {"spacing": 0, "vconcat": [
       {"width": 94, "height": 8, "data": {"values": [{"t": "P_9 (3.36%)"}]}, "mark": "text", "encoding": {"text": {"field": "t"}}, "view": {"fill": "#cccccc", "stroke": "#a8a8a8"}},
       {"width": 94, "height": 39, "data": {"name": "B"}, "transform": [{"filter": {"field": "p", "equal": "P_9"}}], "mark": "line", "encoding": {"x": {"field": "x", "type": "quantitative", "title": null, "scale": {"domain": [-550, 550], "nice": false}, "axis": {"values": [-500, -250, 0, 250, 500], "labelAlign": "center", "labelBaseline": "middle"}}, "y": {"field": "y", "type": "quantitative", "title": null, "scale": {"domain": [0.315, 2.185], "nice": false}, "axis": {"values": [0.5, 1.0, 1.5, 2.0]}}}}
      ]},
      {"spacing": 0, "vconcat": [
       {"width": 94, "height": 8, "data": {"values": [{"t": "P_10 (2.73%)"}]}, "mark": "text", "encoding": {"text": {"field": "t"}}, "view": {"fill": "#cccccc", "stroke": "#a8a8a8"}},
       {"width": 94, "height": 39, "data": {"name": "B"}, "transform": [{"filter": {"field": "p", "equal": "P_10"}}], "mark": "line", "encoding": {"x": {"field": "x", "type": "quantitative", "title": null, "scale": {"domain": [-550, 550], "nice": false}, "axis": {"values": [-500, -250, 0, 250, 500], "labelAlign": "center", "labelBaseline": "middle"}}, "y": {"field": "y", "type": "quantitative", "title": null, "scale": {"domain": [0.61, 2.96], "nice": false}, "axis": {"values": [1.0, 1.5, 2.0, 2.5]}}}}
      ]},
      {"spacing": 0, "vconcat": [
       {"width": 94, "height": 8, "data": {"values": [{"t": "P_11 (2.7%)"}]}, "mark": "text", "encoding": {"text": {"field": "t"}}, "view": {"fill": "#cccccc", "stroke": "#a8a8a8"}},
       {"width": 94, "height": 39, "data": {"name": "B"}, "transform": [{"filter": {"field": "p", "equal": "P_11"}}], "mark": "line", "encoding": {"x": {"field": "x", "type": "quantitative", "title": null, "scale": {"domain": [-550, 550], "nice": false}, "axis": {"values": [-500, -250, 0, 250, 500], "labelAlign": "center", "labelBaseline": "middle"}}, "y": {"field": "y", "type": "quantitative", "title": null, "scale": {"domain": [0.62, 2.85], "nice": false}, "axis": {"values": [1.0, 1.5, 2.0, 2.5]}}}}
      ]},
      {"spacing": 0, "vconcat": [
       {"width": 94, "height": 8, "data": {"values": [{"t": "P_12 (1.42%)"}]}, "mark": "text", "encoding": {"text": {"field": "t"}}, "view": {"fill": "#cccccc", "stroke": "#a8a8a8"}},
       {"width": 94, "height": 39, "data": {"name": "B"}, "transform": [{"filter": {"field": "p", "equal": "P_12"}}], "mark": "line", "encoding": {"x": {"field": "x", "type": "quantitative", "title": null, "scale": {"domain": [-550, 550], "nice": false}, "axis": {"values": [-500, -250, 0, 250, 500], "labelAlign": "center", "labelBaseline": "middle"}}, "y": {"field": "y", "type": "quantitative", "title": null, "scale": {"domain": [0.56, 2.54], "nice": false}, "axis": {"values": [1.0, 1.5, 2.0, 2.5]}}}}
      ]}
     ]}
    ]
   }]
  }]
 }]
}
]
}
